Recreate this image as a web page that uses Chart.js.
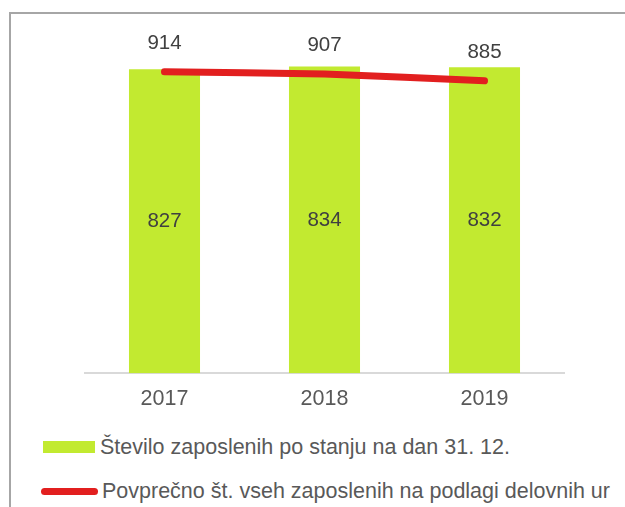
<!DOCTYPE html>
<html>
<head>
<meta charset="utf-8">
<script src="https://cdn.jsdelivr.net/npm/chart.js@4.4.0/dist/chart.umd.min.js"></script>
<style>
  html, body { margin: 0; padding: 0; background: #fff; }
  #wrap { position: relative; width: 625px; height: 507px; overflow: hidden; font-family: 'Liberation Sans', Arial, sans-serif; }
  #frame { position: absolute; left: 9px; top: 12px; width: 700px; height: 600px; border-left: 2px solid #a6a6a6; border-top: 2px solid #a6a6a6; }
  #chart { position: absolute; left: 0; top: 0; }
  .legend-row { position: absolute; display: flex; align-items: center; font-size: 21.5px; color: #595959; white-space: nowrap; }
  .legend-row .mark { flex: none; }
</style>
</head>
<body>
<div id="wrap">
  <div id="frame"></div>
  <canvas id="chart" width="625" height="434"></canvas>
  <div id="legend"></div>
</div>
<script>
// Chart data
const years = ['2017', '2018', '2019'];
const headcountEndOfYear = [827, 834, 832];
const averageByHours = [914, 907, 885];
const seriesNames = [
  'Število zaposlenih po stanju na dan 31. 12.',
  'Povprečno št. vseh zaposlenih na podlagi delovnih ur'
];

const colors = {
  lime: '#c2ea30',
  red: '#e21f1f',
  label: '#404040',
  tick: '#595959',
  axis: '#d9d9d9'
};
const fontFamily = "'Liberation Sans', Arial, sans-serif";

// value labels: inside bars (centered) and above line points
const valueLabels = {
  id: 'valueLabels',
  afterDatasetsDraw(chart) {
    const ctx = chart.ctx;
    ctx.save();
    ctx.font = '20.5px ' + fontFamily;
    ctx.fillStyle = colors.label;
    ctx.textAlign = 'center';
    ctx.textBaseline = 'middle';
    chart.data.datasets.forEach((ds, i) => {
      const meta = chart.getDatasetMeta(i);
      meta.data.forEach((el, j) => {
        const v = ds.data[j];
        if (ds.type === 'line') {
          ctx.fillText(v, el.x, el.y - 29);
        } else {
          ctx.fillText(v, el.x, (el.y + el.base) / 2);
        }
      });
    });
    ctx.restore();
  }
};

const chart = new Chart(document.getElementById('chart'), {
  data: {
    labels: years,
    datasets: [
      {
        type: 'bar',
        label: seriesNames[0],
        data: headcountEndOfYear,
        backgroundColor: colors.lime,
        yAxisID: 'y',
        categoryPercentage: 1,
        barPercentage: 0.444,
        order: 1
      },
      {
        type: 'line',
        label: seriesNames[1],
        data: averageByHours,
        borderColor: colors.red,
        backgroundColor: colors.red,
        borderWidth: 7,
        borderCapStyle: 'round',
        borderJoinStyle: 'round',
        pointRadius: 0,
        tension: 0.15,
        yAxisID: 'y1',
        order: 0
      }
    ]
  },
  options: {
    responsive: false,
    animation: false,
    layout: {
      padding: { left: 84.5, right: 60.5, top: 42.3, bottom: 9 }
    },
    plugins: {
      legend: { display: false },
      tooltip: { enabled: false }
    },
    scales: {
      x: {
        grid: { display: false, drawTicks: false },
        border: { display: true, color: colors.axis, width: 2 },
        ticks: {
          color: colors.tick,
          padding: 13,
          font: { family: fontFamily, size: 21.5 }
        }
      },
      y: {
        display: false,
        min: 0,
        max: 900
      },
      y1: {
        display: false,
        min: -55,
        max: 1009
      }
    }
  },
  plugins: [valueLabels]
});

// legend drawn as HTML under the chart
const legendRows = [
  { top: 435, markLeft: 43, mark: { w: 52, h: 12, r: 0, color: colors.lime }, gap: 5 },
  { top: 479, markLeft: 41, mark: { w: 57, h: 7, r: 4, color: colors.red }, gap: 4 }
];
const legendEl = document.getElementById('legend');
chart.data.datasets.forEach((ds, i) => {
  const cfg = legendRows[i];
  const row = document.createElement('div');
  row.className = 'legend-row';
  row.style.left = cfg.markLeft + 'px';
  row.style.top = cfg.top + 'px';
  row.style.height = '24px';
  const mark = document.createElement('span');
  mark.className = 'mark';
  mark.style.width = cfg.mark.w + 'px';
  mark.style.height = cfg.mark.h + 'px';
  mark.style.borderRadius = cfg.mark.r + 'px';
  mark.style.background = cfg.mark.color;
  mark.style.marginRight = cfg.gap + 'px';
  const text = document.createElement('span');
  text.textContent = ds.label;
  row.appendChild(mark);
  row.appendChild(text);
  legendEl.appendChild(row);
});
</script>
</body>
</html>
